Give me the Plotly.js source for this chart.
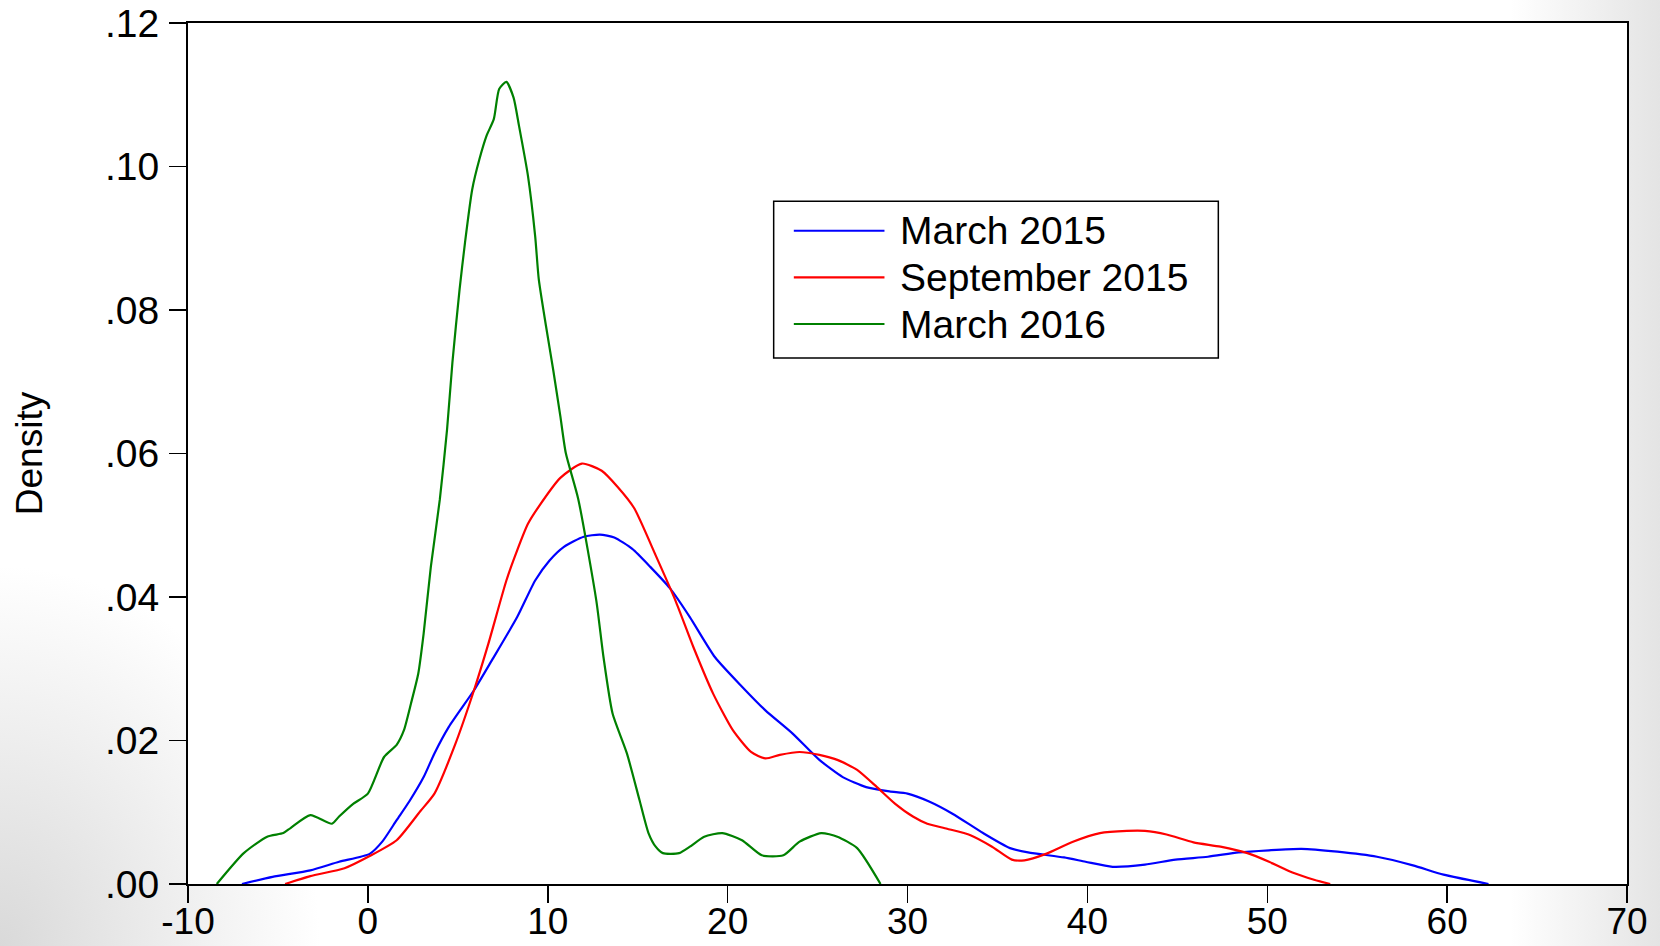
<!DOCTYPE html>
<html>
<head>
<meta charset="utf-8">
<script src="https://cdn.plot.ly/plotly-3.0.1.min.js"></script>
<style>
  html, body { margin: 0; padding: 0; width: 1660px; height: 946px; overflow: hidden;
    background:
      radial-gradient(ellipse 320px 380px at 0% 100%, #d9d9d9 0%, rgba(255,255,255,0) 100%),
      linear-gradient(to left, #e4e4e4 0%, #ffffff 9%); }
  #chart { width: 1660px; height: 946px; }
</style>
</head>
<body>
<div id="chart"></div>
<script>
// ---- Data ----
const seriesNames = ["March 2015", "September 2015", "March 2016"];
const seriesColors = ["#0000ff", "#ff0000", "#008000"];

const march2015X = [-7.0, -5.3, -3.2, -1.6, 0.1, 0.8, 1.6, 2.3, 3.1, 3.7, 4.5, 5.9, 6.9, 8.3, 9.3, 10.1, 10.9, 12.0, 12.9, 13.7, 14.7, 15.7, 16.8, 17.9, 19.3, 20.8, 22.1, 23.6, 25.1, 26.4, 27.7, 29.0, 30.0, 31.2, 32.5, 34.2, 35.7, 36.7, 38.7, 39.9, 41.4, 43.2, 44.9, 46.7, 48.4, 50.1, 51.9, 53.9, 56.1, 58.1, 59.8, 62.3];
const march2015Y = [0.0, 0.0010, 0.0019, 0.0031, 0.0042, 0.0059, 0.0089, 0.0115, 0.0149, 0.0182, 0.0219, 0.0270, 0.0312, 0.0372, 0.0423, 0.0451, 0.0470, 0.0484, 0.0487, 0.0483, 0.0467, 0.0442, 0.0412, 0.0372, 0.0316, 0.0275, 0.0242, 0.0210, 0.0173, 0.0149, 0.0135, 0.0129, 0.0126, 0.0115, 0.0098, 0.0071, 0.0050, 0.0044, 0.0037, 0.0031, 0.0024, 0.0027, 0.0034, 0.0038, 0.0044, 0.0047, 0.0049, 0.0045, 0.0038, 0.0026, 0.0013, 0.0];

const sept2015X = [-4.6, -3.2, -1.3, 0.1, 1.6, 2.9, 3.7, 4.8, 5.9, 6.7, 7.7, 8.3, 8.9, 9.5, 10.7, 11.9, 13.0, 13.9, 14.8, 16.0, 17.1, 18.1, 19.2, 20.3, 21.3, 22.1, 22.9, 24.0, 25.1, 26.1, 27.2, 28.3, 29.3, 30.3, 31.1, 32.2, 33.5, 34.7, 35.8, 36.5, 37.7, 39.2, 40.7, 42.2, 43.2, 44.4, 45.9, 47.4, 48.9, 50.1, 51.4, 52.6, 53.5];
const sept2015Y = [0.0, 0.0011, 0.0022, 0.0039, 0.0061, 0.0101, 0.0126, 0.0191, 0.0270, 0.0335, 0.0423, 0.0465, 0.0502, 0.0526, 0.0566, 0.0586, 0.0576, 0.0553, 0.0524, 0.0458, 0.0395, 0.0330, 0.0265, 0.0214, 0.0184, 0.0175, 0.0180, 0.0184, 0.0180, 0.0173, 0.0159, 0.0135, 0.0112, 0.0094, 0.0084, 0.0077, 0.0068, 0.0052, 0.0034, 0.0033, 0.0042, 0.0059, 0.0071, 0.0074, 0.0074, 0.0069, 0.0058, 0.0052, 0.0043, 0.0031, 0.0016, 0.0006, 0.0];

const march2016X = [-8.4, -6.9, -5.6, -4.7, -4.3, -3.2, -2.0, -1.6, -0.8, 0.0, 0.9, 1.6, 2.0, 2.4, 2.8, 3.1, 3.5, 4.0, 4.4, 4.7, 5.1, 5.4, 5.8, 6.2, 6.6, 7.0, 7.3, 7.7, 8.1, 8.4, 8.9, 9.3, 9.5, 9.9, 10.3, 10.7, 11.0, 11.7, 12.7, 13.1, 13.6, 14.4, 15.1, 15.6, 16.0, 16.4, 17.3, 17.9, 18.7, 19.7, 20.8, 21.9, 23.1, 24.0, 25.2, 26.1, 27.2, 28.5];
const march2016Y = [0.0, 0.0043, 0.0066, 0.0071, 0.0078, 0.0096, 0.0084, 0.0094, 0.0112, 0.0126, 0.0177, 0.0194, 0.0214, 0.0252, 0.0293, 0.0349, 0.0442, 0.0536, 0.0633, 0.0727, 0.0829, 0.0894, 0.0968, 0.1010, 0.1043, 0.1066, 0.1108, 0.1118, 0.1096, 0.1057, 0.0987, 0.0903, 0.0843, 0.0778, 0.0717, 0.0652, 0.0601, 0.0536, 0.0395, 0.0316, 0.0238, 0.0182, 0.0117, 0.0071, 0.0052, 0.0043, 0.0043, 0.0052, 0.0066, 0.0071, 0.0061, 0.0040, 0.0040, 0.0059, 0.0071, 0.0066, 0.0050, 0.0];

const xTickVals = [-10, 0, 10, 20, 30, 40, 50, 60, 70];
const xTickText = ["-10", "0", "10", "20", "30", "40", "50", "60", "70"];
const yTickVals = [0, 0.02, 0.04, 0.06, 0.08, 0.10, 0.12];
const yTickText = [".00", ".02", ".04", ".06", ".08", ".10", ".12"];
const yAxisTitle = "Density";

// ---- Build chart ----
const xs = [march2015X, sept2015X, march2016X];
const ys = [march2015Y, sept2015Y, march2016Y];
const traces = xs.map((x, i) => ({
  x: x, y: ys[i], type: "scatter", mode: "lines", name: seriesNames[i],
  line: { color: seriesColors[i], width: 2.2, shape: "spline", smoothing: 0.6 },
  showlegend: false, hoverinfo: "skip"
}));

const fontFamily = "Liberation Sans, Arial, sans-serif";
const fontSize = 39;

// custom legend (box, sample lines, labels) in paper coordinates
const legX0 = 0.407, legX1 = 0.716, legY0 = 0.611, legY1 = 0.793;
const legLineX0 = 0.421, legLineX1 = 0.484, legTextX = 0.4935;
const legRows = [0.7587, 0.7045, 0.6504];
const shapes = [{
  type: "rect", xref: "paper", yref: "paper", x0: legX0, x1: legX1, y0: legY0, y1: legY1,
  line: { color: "#000", width: 1.5 }, fillcolor: "#fff", layer: "above"
}];
const annotations = [];
seriesNames.forEach((n, i) => {
  shapes.push({ type: "line", xref: "paper", yref: "paper", x0: legLineX0, x1: legLineX1,
    y0: legRows[i], y1: legRows[i], line: { color: seriesColors[i], width: 2.2 }, layer: "above" });
  annotations.push({ xref: "paper", yref: "paper", x: legTextX, y: legRows[i], text: n,
    showarrow: false, xanchor: "left", yanchor: "middle",
    font: { family: fontFamily, size: fontSize, color: "#000" } });
});

const layout = {
  width: 1660, height: 946,
  margin: { l: 188, r: 33, t: 23, b: 62, pad: 0 },
  paper_bgcolor: "rgba(0,0,0,0)",
  plot_bgcolor: "#ffffff",
  font: { family: fontFamily, size: fontSize, color: "#000" },
  showlegend: false,
  xaxis: {
    range: [-10, 70], tickmode: "array", tickvals: xTickVals, ticktext: xTickText,
    ticks: "outside", ticklen: 17, tickwidth: 1.5, tickcolor: "#000",
    showline: true, linewidth: 2, linecolor: "#000", mirror: true,
    showgrid: false, zeroline: false, ticklabelstandoff: -13,
    tickfont: { family: fontFamily, size: 37, color: "#000" }
  },
  yaxis: {
    range: [0, 0.12], tickmode: "array", tickvals: yTickVals, ticktext: yTickText,
    ticks: "outside", ticklen: 17, tickwidth: 1.5, tickcolor: "#000",
    showline: true, linewidth: 2, linecolor: "#000", mirror: true,
    showgrid: false, zeroline: false, ticklabelstandoff: 2,
    tickfont: { family: fontFamily, size: fontSize, color: "#000" },
    title: { text: yAxisTitle, standoff: 51, font: { family: fontFamily, size: 37, color: "#000" } }
  },
  shapes: shapes,
  annotations: annotations
};

Plotly.newPlot("chart", traces, layout, { displayModeBar: false, staticPlot: true });
</script>
</body>
</html>
